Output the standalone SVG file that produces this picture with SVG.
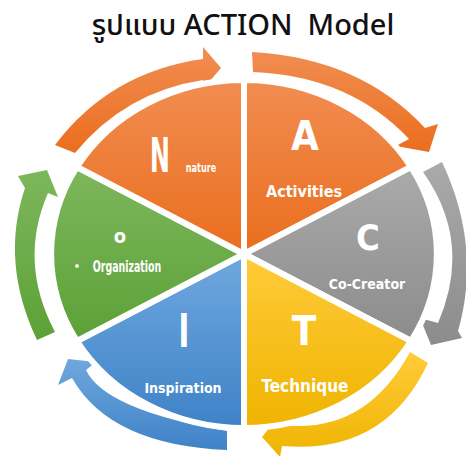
<svg xmlns="http://www.w3.org/2000/svg" width="466" height="456" viewBox="0 0 466 456">
<defs>
<linearGradient id="gOr" x1="0" y1="0" x2="0" y2="1"><stop offset="0" stop-color="#F18D52"/><stop offset="1" stop-color="#EA6E1D"/></linearGradient>
<linearGradient id="gGr" x1="0" y1="0" x2="0" y2="1"><stop offset="0" stop-color="#AAAAAA"/><stop offset="1" stop-color="#8C8C8C"/></linearGradient>
<linearGradient id="gYe" x1="0" y1="0" x2="0" y2="1"><stop offset="0" stop-color="#FFCB3A"/><stop offset="1" stop-color="#EFB400"/></linearGradient>
<linearGradient id="gBl" x1="0" y1="0" x2="0" y2="1"><stop offset="0" stop-color="#6FA8DE"/><stop offset="1" stop-color="#3E82C7"/></linearGradient>
<linearGradient id="gGn" x1="0" y1="0" x2="0" y2="1"><stop offset="0" stop-color="#7DB75C"/><stop offset="1" stop-color="#5CA137"/></linearGradient>
</defs>
<style>
.w{stroke:#fff;stroke-width:6;stroke-linejoin:miter}
.big{font-family:"DejaVu Sans Condensed","DejaVu Sans",sans-serif;font-weight:bold;fill:#fff;text-anchor:middle}
.lbl{font-family:"DejaVu Sans Condensed","DejaVu Sans",sans-serif;font-weight:bold;fill:#fff;text-anchor:middle}
.thin{font-family:"DejaVu Sans Condensed","DejaVu Sans",sans-serif;font-weight:bold;fill:#fff;text-anchor:middle}
.title{font-family:"Noto Sans","Noto Sans Thai","DejaVu Sans",sans-serif;font-size:29px;font-weight:500;fill:#111;text-anchor:middle}
</style>
<text class="title" x="243" y="35" xml:space="preserve">รูปแบบ ACTION  Model</text>
<g id="connectors">
<path d="M55,145 Q110,72 203,59 L203,47 L221,68 L203,89 L203,80 Q125,92 75,153 Z" fill="url(#gOr)"/>
<path d="M252,52 Q360,58 425,128 L438,124 L429,152 L396,146 L409,139 Q350,76 253,72 Z" fill="url(#gOr)"/>
<path d="M423,172 L442,162 Q482,247 458,331 L462,338 L431,345 L420,318 L438,323 Q473,242 423,172 Z" fill="url(#gGr)"/>
<path d="M410,352 L428,363 Q385,455 282,446 L280,457 L262,437 L278,417 L281,425 Q365,435 410,352 Z" fill="url(#gYe)"/>
<path d="M227,431 L227,450 Q110,445 72,378 L58,385 L68,359 L96,362 L86,370 Q105,410 227,431 Z" fill="url(#gBl)"/>
<path d="M55,332 L37,340 Q0,262 25,188 L18,176 L47,170 L58,197 L48,193 Q18,262 55,332 Z" fill="url(#gGn)"/>
</g>
<g id="node-A"><path class="w" d="M244,254 L244,80 A193,174 0 0 1 411,167 Z" fill="url(#gOr)"/>
<text class="big" x="305" y="150" font-size="40">A</text>
<text class="lbl" x="304" y="197" font-size="16">Activities</text></g>
<g id="node-C"><path class="w" d="M244,254 L411,167 A193,174 0 0 1 411,341 Z" fill="url(#gGr)"/>
<text class="big" x="368" y="250" font-size="36">C</text>
<text class="lbl" x="367" y="289" font-size="14" fill="#F2F2F2">Co-Creator</text></g>
<g id="node-T"><path class="w" d="M244,254 L411,341 A193,174 0 0 1 244,428 Z" fill="url(#gYe)"/>
<text class="big" x="304" y="345" font-size="40">T</text>
<text class="lbl" x="305" y="392" font-size="17">Technique</text></g>
<g id="node-I"><path class="w" d="M244,254 L244,428 A193,174 0 0 1 77,341 Z" fill="url(#gBl)"/>
<text class="thin" transform="translate(184,347) scale(0.7,1)" font-size="46">I</text>
<text class="lbl" x="183" y="393" font-size="14">Inspiration</text></g>
<g id="node-O"><path class="w" d="M244,254 L77,341 A193,174 0 0 1 77,167 Z" fill="url(#gGn)"/>
<text class="big" x="120" y="243" font-size="20">o</text>
<circle cx="77" cy="266" r="2" fill="#F4F4E0"/>
<text class="thin" transform="translate(127,272) scale(0.7,1)" font-size="15" fill="#F1F3D8">Organization</text></g>
<g id="node-N"><path class="w" d="M244,254 L77,167 A193,174 0 0 1 244,80 Z" fill="url(#gOr)"/>
<text class="thin" transform="translate(160,172) scale(0.55,1)" font-size="48">N</text>
<text class="thin" transform="translate(201,172) scale(0.75,1)" font-size="12">nature</text></g>
</svg>
